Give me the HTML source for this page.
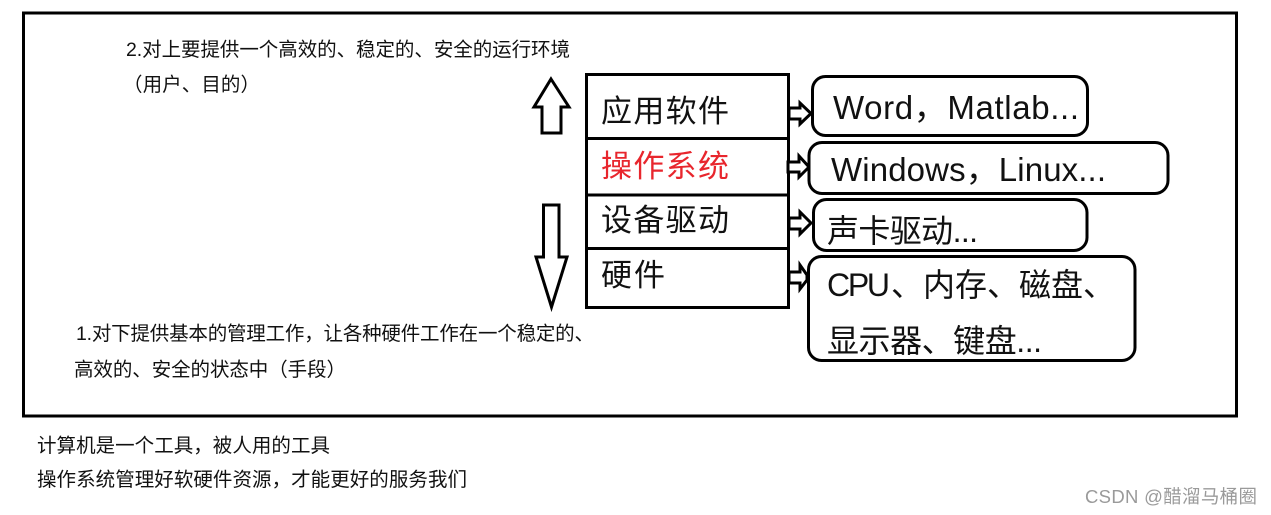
<!DOCTYPE html>
<html><head><meta charset="utf-8">
<style>
html,body{margin:0;padding:0;background:#fff;width:1271px;height:515px;overflow:hidden}
svg{display:block;font-family:"Liberation Sans","Noto Sans CJK SC",sans-serif;filter:blur(0.35px)}
text{fill:#111}
.s{font-size:19.5px}
.b{font-size:31px}
.r{font-size:32px}
</style></head><body>
<svg width="1271" height="515" viewBox="0 0 1271 515" xmlns="http://www.w3.org/2000/svg">
<rect width="1271" height="515" fill="#fff"/>
<rect x="23.5" y="13" width="1213" height="403" fill="none" stroke="#000" stroke-width="3"/>

<rect x="586.5" y="74.5" width="202" height="233" fill="none" stroke="#000" stroke-width="3"/>
<path d="M585 138.500H789M585 195H789M586 248.500H789" stroke="#000" stroke-width="3" fill="none"/>

<g fill="#fff" stroke="#000" stroke-width="3" stroke-linejoin="miter">
<path d="M551 79L569 107H561V133H542V107H534Z"/>
<path d="M543.500 205H559V257H567L551.500 307L536 257H543.500Z"/>
<path d="M789 108H800V103L811 113.500L800 124V119H789Z"/>
<path d="M788 162H799V156L809 167L799 177V172H788Z"/>
<path d="M789 218H800V212L811 223L800 234V229H789Z"/>
<path d="M789 272H800V265L807 275V280L800 289V283H789Z"/>
</g>

<g fill="#fff" stroke="#000" stroke-width="3">
<rect x="812.500" y="76.500" width="275" height="59" rx="13"/>
<rect x="809" y="142.500" width="359" height="51" rx="13"/>
<rect x="813.500" y="199.500" width="273.500" height="51" rx="13"/>
<rect x="808.500" y="256.500" width="326.500" height="104" rx="13"/>
</g>

<text class="b" x="601" y="122" textLength="128">应用软件</text>
<text class="b" x="601" y="177" textLength="128" style="fill:#e8262d">操作系统</text>
<text class="b" x="601" y="231" textLength="128">设备驱动</text>
<text class="b" x="601" y="286" textLength="64">硬件</text>

<text x="833" y="119" textLength="246" style="font-size:33px">Word，Matlab...</text>
<text x="831" y="181" textLength="275" style="font-size:33px">Windows，Linux...</text>
<text class="r" x="827" y="242" textLength="151">声卡驱动...</text>
<text class="r" x="827" y="296" textLength="63">CPU</text>
<text class="r" x="891" y="296" textLength="224">、内存、磁盘、</text>
<text class="r" x="827" y="352" textLength="215">显示器、键盘...</text>

<text class="s" x="126" y="56" textLength="444">2.对上要提供一个高效的、稳定的、安全的运行环境</text>
<text class="s" x="123" y="91" textLength="137">（用户、目的）</text>
<text class="s" x="76" y="340" textLength="518">1.对下提供基本的管理工作，让各种硬件工作在一个稳定的、</text>
<text class="s" x="74" y="376" textLength="272">高效的、安全的状态中（手段）</text>
<text class="s" x="37" y="452" textLength="293">计算机是一个工具，被人用的工具</text>
<text class="s" x="37" y="486" textLength="430">操作系统管理好软硬件资源，才能更好的服务我们</text>
<text x="1085" y="503" textLength="172" style="fill:#9a9a9a;font-size:18.5px">CSDN @醋溜马桶圈</text>
</svg>
</body></html>
